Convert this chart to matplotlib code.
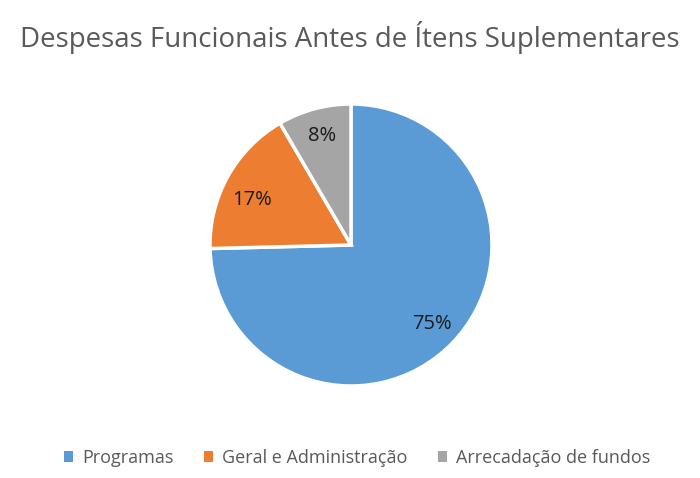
import matplotlib.pyplot as plt
from matplotlib.patches import Patch

titulo = 'Despesas Funcionais Antes de Ítens Suplementares'
categorias = ['Programas', 'Geral e Administração', 'Arrecadação de fundos']
valores = [74.6, 17.0, 8.4]
cores = ['#5B9BD5', '#ED7D31', '#A5A5A5']

plt.rcParams['font.family'] = ['Open Sans', 'DejaVu Sans']

fig = plt.figure(figsize=(7, 4.78), dpi=100)

# pie area in pixels: centre (351, 245), radius 141
cx, cy, r = 351, 245, 141
ax = fig.add_axes([(cx - r) / 700, (478 - cy - r) / 478, 2 * r / 700, 2 * r / 478])
fatias, rotulos, pcts = ax.pie(valores, colors=cores, startangle=90, counterclock=False,
                               autopct='%.0f%%', pctdistance=0.8, radius=1,
                               wedgeprops=dict(edgecolor='white', linewidth=2.5),
                               textprops=dict(fontsize=14.5, color='#1a1a1a'))
# Excel puts the 17% label a bit lower
x, y = pcts[1].get_position()
pcts[1].set_position((x, y - 0.07))
ax.set_xlim(-1, 1)
ax.set_ylim(-1, 1)
ax.set_aspect('equal')

fig.text(0.5, 1 - 37 / 478, titulo, ha='center', va='center',
         fontsize=19.9, color='#595959')

handles = [Patch(facecolor=c, edgecolor='none') for c in cores]
fig.legend(handles, categorias, loc='center', bbox_to_anchor=(0.51, 1 - 458 / 478),
           ncol=3, frameon=False, fontsize=13, labelcolor='#595959',
           handlelength=0.5, handleheight=0.5, handletextpad=0.5,
           columnspacing=1.7)

fig.savefig('out.png', dpi=100)
